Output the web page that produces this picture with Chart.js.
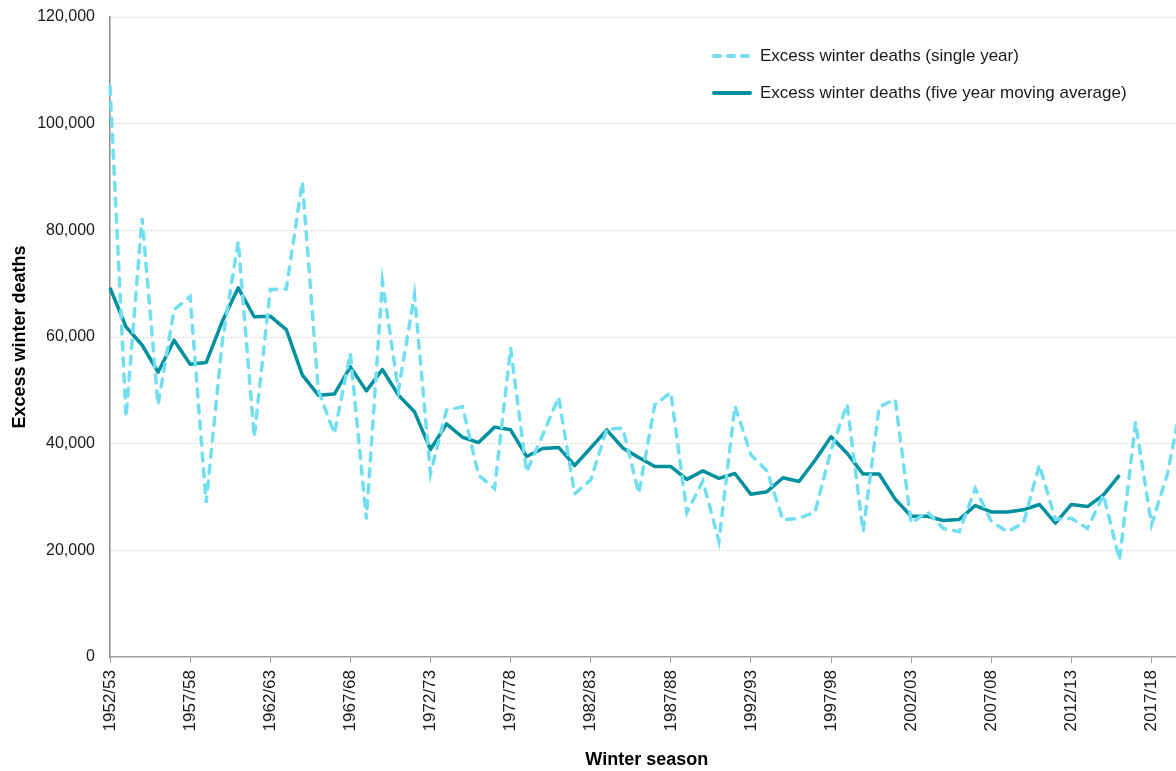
<!DOCTYPE html>
<html lang="en">

<head>
    <meta charset="UTF-8">
    <title>Excess winter deaths</title>
    <script src="https://cdn.jsdelivr.net/npm/chart.js@4.4.1/dist/chart.umd.min.js"></script>
    <style>
        html, body {
            margin: 0;
            padding: 0;
            background: #fff;
            overflow: hidden;
        }

        .chart-wrap {
            position: relative;
            width: 1211px;
            height: 771px;
        }

        .legend {
            position: absolute;
            left: 712px;
            top: 37px;
            font-family: 'Liberation Sans', Arial, sans-serif;
            font-size: 17px;
            color: #1a1a1a;
        }

        .legend-row {
            display: flex;
            align-items: center;
            height: 37px;
        }

        .legend-row svg {
            margin-right: 8px;
        }
    </style>
</head>

<body>
    <div class="chart-wrap">
        <canvas id="ewdChart"></canvas>
        <!-- Legend sits inside the plot area, top right -->
        <div class="legend">
            <div class="legend-row">
                <svg width="40" height="8"><line x1="2" y1="4" x2="38" y2="4" stroke="#72dff0" stroke-width="4"
                        stroke-linecap="round" stroke-dasharray="6 8" /></svg>
                <span>Excess winter deaths (single year)</span>
            </div>
            <div class="legend-row">
                <svg width="40" height="8"><line x1="2" y1="4" x2="38" y2="4" stroke="#00909e" stroke-width="4"
                        stroke-linecap="round" /></svg>
                <span>Excess winter deaths (five year moving average)</span>
            </div>
        </div>
    </div>

    <script>
        const seasons = [
            '1952/53', '1953/54', '1954/55', '1955/56', '1956/57', '1957/58', '1958/59', '1959/60', '1960/61', '1961/62',
            '1962/63', '1963/64', '1964/65', '1965/66', '1966/67', '1967/68', '1968/69', '1969/70', '1970/71', '1971/72',
            '1972/73', '1973/74', '1974/75', '1975/76', '1976/77', '1977/78', '1978/79', '1979/80', '1980/81', '1981/82',
            '1982/83', '1983/84', '1984/85', '1985/86', '1986/87', '1987/88', '1988/89', '1989/90', '1990/91', '1991/92',
            '1992/93', '1993/94', '1994/95', '1995/96', '1996/97', '1997/98', '1998/99', '1999/00', '2000/01', '2001/02',
            '2002/03', '2003/04', '2004/05', '2005/06', '2006/07', '2007/08', '2008/09', '2009/10', '2010/11', '2011/12',
            '2012/13', '2013/14', '2014/15', '2015/16', '2016/17', '2017/18', '2018/19', '2019/20'
        ];

        // excess winter deaths, single year
        const singleYear = [
            107000, 45000, 82300, 47300, 65100, 67600, 28900, 59000, 77900, 41300,
            68900, 69000, 89100, 50000, 41900, 56900, 25800, 70400, 50000, 67900,
            34400, 46300, 46900, 34100, 31600, 57900, 34700, 41600, 48700, 30600,
            33200, 42700, 42900, 30700, 47300, 49600, 27100, 33000, 21700, 47100,
            37900, 34900, 25700, 26000, 27200, 38800, 47400, 23500, 46900, 48300,
            25100, 27200, 24100, 23500, 31600, 25400, 23500, 25100, 36000, 25800,
            26000, 24100, 30400, 18200, 44000, 24800, 34400, 50000
        ];

        // excess winter deaths, five year moving average
        const movingAverage = [
            69200, 61900, 58500, 53400, 59400, 54900, 55200, 62900, 69200, 63800,
            63900, 61400, 52900, 49100, 49300, 54400, 49900, 53900, 49100, 46000,
            38900, 43700, 41200, 40200, 43100, 42600, 37600, 39100, 39300, 35900,
            39200, 42600, 39200, 37400, 35700, 35700, 33300, 34900, 33500, 34400,
            30500, 31000, 33600, 32900, 36900, 41300, 38200, 34300, 34300, 29600,
            26400, 26400, 25600, 25800, 28400, 27200, 27200, 27600, 28600, 25100,
            28600, 28200, 30400, 34100
        ];

        const yTicks = [0, 20000, 40000, 60000, 80000, 100000, 120000];
        const labelEvery = 5;

        const FONT = "'Liberation Sans', Arial, sans-serif";

        new Chart(document.getElementById('ewdChart'), {
            type: 'line',
            data: {
                labels: seasons,
                datasets: [{
                    label: 'Excess winter deaths (single year)',
                    data: singleYear,
                    borderColor: '#72dff0',
                    borderWidth: 3.5,
                    borderDash: [8, 8],
                    borderCapStyle: 'round',
                    pointRadius: 0,
                    tension: 0
                }, {
                    label: 'Excess winter deaths (five year moving average)',
                    data: movingAverage,
                    borderColor: '#00909e',
                    borderWidth: 3.5,
                    borderJoinStyle: 'round',
                    pointRadius: 0,
                    tension: 0
                }]
            },
            options: {
                responsive: true,
                maintainAspectRatio: false,
                animation: false,
                layout: {
                    padding: { top: 17, right: 0, left: 0, bottom: 0 }
                },
                plugins: {
                    legend: { display: false },
                    tooltip: { enabled: false }
                },
                scales: {
                    x: {
                        afterFit: s => { s.height = 114; },
                        grid: {
                            drawOnChartArea: false,
                            drawTicks: true,
                            tickLength: 6,
                            color: c => (c.index % labelEvery === 0 ? '#a0a0a0' : 'transparent')
                        },
                        border: { color: '#a0a0a0', width: 1.5 },
                        ticks: {
                            autoSkip: false,
                            minRotation: 90,
                            maxRotation: 90,
                            padding: 7,
                            color: '#1a1a1a',
                            font: { family: FONT, size: 17 },
                            callback: function (v, i) {
                                return i % labelEvery === 0 ? seasons[i] : '';
                            }
                        },
                        title: {
                            display: true,
                            text: 'Winter season',
                            color: '#000',
                            padding: { top: 0, bottom: 0 },
                            font: { family: FONT, size: 18, weight: 'bold' }
                        }
                    },
                    y: {
                        min: 0,
                        max: 120000,
                        afterFit: s => {
                            s.width = 110;
                            // tick padding would otherwise push the plot top down
                            s.paddingTop = 0;
                            s.paddingBottom = 0;
                        },
                        afterBuildTicks: s => { s.ticks = yTicks.map(v => ({ value: v })); },
                        grid: {
                            drawTicks: false,
                            color: c => (c.tick.value === 0 ? 'transparent' : '#d4d4d4'),
                            lineWidth: 1
                        },
                        border: { color: '#8c8c8c', width: 1.5, dash: [2, 2] },
                        ticks: {
                            padding: 15,
                            color: '#1a1a1a',
                            font: { family: FONT, size: 16 },
                            callback: v => v.toLocaleString('en-GB')
                        },
                        title: {
                            display: true,
                            text: 'Excess winter deaths',
                            color: '#000',
                            padding: { top: 9, bottom: 0 },
                            font: { family: FONT, size: 18, weight: 'bold' }
                        }
                    }
                }
            }
        });
    </script>
</body>

</html>
